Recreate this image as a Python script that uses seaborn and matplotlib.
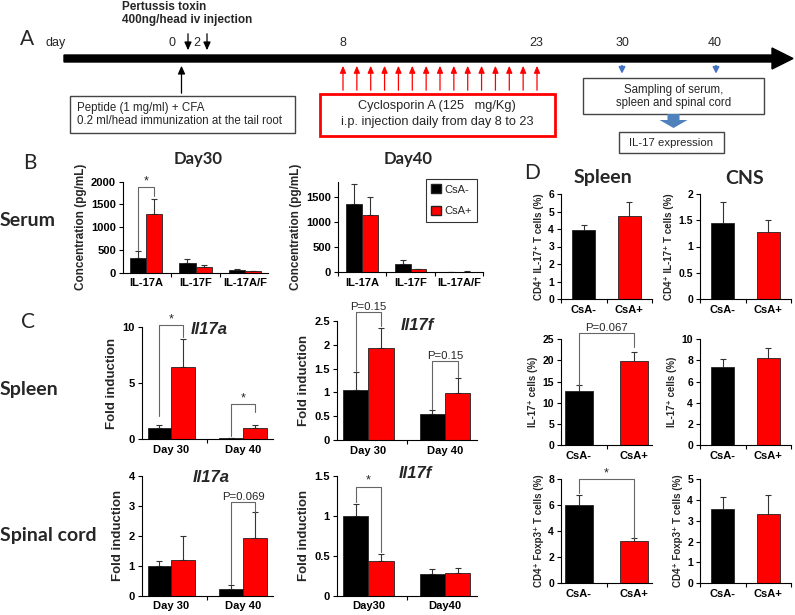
import numpy as np
import pandas as pd
import matplotlib.pyplot as plt
import seaborn as sns
from matplotlib.patches import Patch, Rectangle
from matplotlib.container import BarContainer

sns.set_theme(style='ticks')
plt.rcParams['font.family'] = ['Liberation Sans', 'DejaVu Sans']

W, H = 795, 615

groups = ['CsA-', 'CsA+']
colors = {'CsA-': '#000000', 'CsA+': '#ff0000'}

# B - serum IL-17 (pg/mL)
cytokines = ['IL-17A', 'IL-17F', 'IL-17A/F']
serum30_neg = [330, 210, 55]
serum30_neg_err = [140, 100, 25]
serum30_pos = [1280, 120, 35]
serum30_pos_err = [350, 45, 10]
serum40_neg = [1350, 160, 5]
serum40_neg_err = [410, 80, 3]
serum40_pos = [1140, 60, 15]
serum40_pos_err = [350, 15, 10]

# C - fold induction
days = ['Day 30', 'Day 40']
days2 = ['Day30', 'Day40']
spl_a_neg = [1.0, 0.1]
spl_a_neg_err = [0.3, 0.05]
spl_a_pos = [6.45, 1.0]
spl_a_pos_err = [2.45, 0.3]
spl_f_neg = [1.05, 0.55]
spl_f_neg_err = [0.37, 0.08]
spl_f_pos = [1.93, 0.98]
spl_f_pos_err = [0.42, 0.32]
sc_a_neg = [1.0, 0.23]
sc_a_neg_err = [0.17, 0.12]
sc_a_pos = [1.2, 1.93]
sc_a_pos_err = [0.8, 0.85]
sc_f_neg = [1.0, 0.27]
sc_f_neg_err = [0.15, 0.07]
sc_f_pos = [0.44, 0.29]
sc_f_pos_err = [0.08, 0.06]

# D - flow cytometry (%)
spl_cd4_il17 = [3.93, 4.72]
spl_cd4_il17_err = [0.3, 0.8]
cns_cd4_il17 = [1.45, 1.27]
cns_cd4_il17_err = [0.4, 0.24]
spl_il17 = [12.7, 19.8]
spl_il17_err = [1.4, 2.3]
cns_il17 = [7.35, 8.25]
cns_il17_err = [0.75, 0.9]
spl_foxp3 = [6.0, 3.22]
spl_foxp3_err = [0.78, 0.25]
cns_foxp3 = [3.58, 3.33]
cns_foxp3_err = [0.57, 0.92]

# timeline labels
tl_days = ['0', '2', '8', '23', '30', '40']
tl_x = [172, 197, 343, 536, 622, 715]

fig = plt.figure(figsize=(W / 100, H / 100), dpi=100)
fig.patch.set_facecolor('white')

ov = fig.add_axes([0, 0, 1, 1])
ov.set_xlim(0, W)
ov.set_ylim(H, 0)
ov.axis('off')


def px_axes(x0, y0, x1, y1):
    return fig.add_axes([x0 / W, 1 - y1 / H, (x1 - x0) / W, (y1 - y0) / H])


def bars(ax):
    return [c for c in ax.containers if isinstance(c, BarContainer)]


def style(ax, ylim, yticks, ylabel, ylab_fs=9, x_fs=8, tick_fs=8):
    sns.despine(ax=ax)
    for s in ['left', 'bottom']:
        ax.spines[s].set_color('black')
        ax.spines[s].set_linewidth(0.8)
    ax.set_ylim(*ylim)
    ax.set_yticks(yticks)
    ax.set_yticklabels(['%g' % t for t in yticks], fontweight='bold', fontsize=tick_fs)
    ax.tick_params(axis='y', direction='out', length=3, width=0.8, pad=2, colors='black')
    n = len(ax.get_xticks())
    ax.set_xticks(np.arange(n + 1) - 0.5, minor=True)
    ax.tick_params(axis='x', which='major', length=0, pad=4, colors='black')
    ax.tick_params(axis='x', which='minor', bottom=True, length=3, width=0.8, direction='out', color='black')
    for lbl in ax.get_xticklabels():
        lbl.set_fontweight('bold')
        lbl.set_fontsize(x_fs)
    ax.set_xlabel('')
    ax.set_ylabel(ylabel, fontweight='bold', fontsize=ylab_fs, labelpad=3)
    ax.set_facecolor('none')


def errs(ax, conts, errors, both=False):
    for cont, er in zip(conts, errors):
        for bar, e in zip(cont, er):
            xc = bar.get_x() + bar.get_width() / 2
            yerr = [[e], [e]] if both else [[0], [e]]
            ax.errorbar(xc, bar.get_height(), yerr=yerr, fmt='none', ecolor='#333333',
                        elinewidth=0.8, capsize=2.5, capthick=0.8, zorder=1)


def grouped(ax, cats, neg, neg_err, pos, pos_err):
    df = pd.DataFrame({'cat': cats * 2,
                       'grp': ['CsA-'] * len(cats) + ['CsA+'] * len(cats),
                       'val': neg + pos})
    sns.barplot(data=df, x='cat', y='val', hue='grp', hue_order=groups, palette=colors,
                saturation=1, width=0.66, errorbar=None, edgecolor='#222222', linewidth=0.6,
                legend=False, ax=ax, zorder=2)
    errs(ax, bars(ax), [neg_err, pos_err])


def single(ax, vals, err):
    df = pd.DataFrame({'grp': groups, 'val': vals})
    sns.barplot(data=df, x='grp', y='val', hue='grp', palette=colors, saturation=1, width=0.5,
                errorbar=None, edgecolor='#222222', linewidth=0.6, legend=False, ax=ax, zorder=2)
    errs(ax, bars(ax), [[e] for e in err], both=True)


def centers(ax):
    return [[b.get_x() + b.get_width() / 2 for b in c] for c in bars(ax)]


def bracket(ax, xl, xr, yl, top, yr, text, fs=9):
    ax.plot([xl, xl, xr, xr], [yl, top, top, yr], color='#666666', lw=0.8, clip_on=False, zorder=3)
    ax.text((xl + xr) / 2, top, text, ha='center', va='bottom', fontsize=fs, clip_on=False)


# ---------------- Panel A (schematic) ----------------
ov.text(27, 39, 'A', fontsize=15, family='Lato', ha='center', va='center')
ov.text(46, 43, 'day', fontsize=9, va='center')
for lab, x in zip(tl_days, tl_x):
    ov.text(x, 43, lab, fontsize=9, ha='center', va='center')
ov.text(122, 7, 'Pertussis toxin', fontsize=8.5, fontweight='bold', va='center')
ov.text(122, 20.5, '400ng/head iv injection', fontsize=8.5, fontweight='bold', va='center')
ov.arrow(64, 58.5, 729, 0, width=7, head_width=21, head_length=21,
         length_includes_head=True, color='black')
for x in [188, 207]:
    ov.annotate('', xy=(x, 53), xytext=(x, 31),
                arrowprops=dict(arrowstyle='-|>,head_width=0.18,head_length=0.4', color='black', lw=0.9))
ov.annotate('', xy=(181.5, 63), xytext=(181.5, 96),
            arrowprops=dict(arrowstyle='-|>,head_width=0.18,head_length=0.4', color='black', lw=0.9))
ov.add_patch(Rectangle((70, 96), 225, 37, fill=False, ec='#444444', lw=1))
ov.text(77, 108.5, 'Peptide (1 mg/ml) + CFA', fontsize=8.3, va='center')
ov.text(77, 121, '0.2 ml/head immunization at the tail root', fontsize=8.3, va='center')
for x in np.linspace(343, 537, 15):
    ov.annotate('', xy=(x, 63), xytext=(x, 93),
                arrowprops=dict(arrowstyle='-|>,head_width=0.15,head_length=0.35', color='#ff0000', lw=0.9))
ov.add_patch(Rectangle((320, 93.5), 235, 42, fill=False, ec='#ff0000', lw=2))
ov.text(437, 106.5, 'Cyclosporin A (125   mg/Kg)', fontsize=9.2, ha='center', va='center')
ov.text(437, 122.5, 'i.p. injection daily from day 8 to 23', fontsize=9.2, ha='center', va='center')
for x in [622, 716]:
    ov.annotate('', xy=(x, 76.5), xytext=(x, 63),
                arrowprops=dict(arrowstyle='-|>,head_width=0.15,head_length=0.3', color='#4472c4', lw=1.3))
ov.add_patch(Rectangle((583, 77.5), 181, 36.5, fill=False, ec='#444444', lw=1))
ov.text(674, 90, 'Sampling of serum,', fontsize=8.3, ha='center', va='center')
ov.text(674, 103, 'spleen and spinal cord', fontsize=8.3, ha='center', va='center')
ov.arrow(673.5, 114, 0, 14, width=12, head_width=28, head_length=8,
         length_includes_head=True, color='#4f81bd', lw=0)
ov.add_patch(Rectangle((618.5, 132), 105.5, 21, fill=False, ec='#444444', lw=1))
ov.text(671, 143, 'IL-17 expression', fontsize=8.2, ha='center', va='center')

# ---------------- Panel B ----------------
ov.text(30, 163, 'B', fontsize=15, family='Lato', ha='center', va='center')
ov.text(28, 220, 'Serum', fontsize=14, family='Lato', fontweight='bold', ha='center', va='center')
ov.text(198, 159, 'Day30', fontsize=12, family='Lato', fontweight='bold', ha='center', va='center')
ov.text(408, 159, 'Day40', fontsize=12, family='Lato', fontweight='bold', ha='center', va='center')

ax = px_axes(123, 181.7, 268, 272.7)
grouped(ax, cytokines, serum30_neg, serum30_neg_err, serum30_pos, serum30_pos_err)
style(ax, (0, 2000), [0, 500, 1000, 1500, 2000], 'Concentration (pg/mL)', ylab_fs=8.5)
c = centers(ax)
bracket(ax, c[0][0], c[1][0], 500, 1880, 1680, '*')

ax = px_axes(338, 181.7, 483, 272.3)
grouped(ax, cytokines, serum40_neg, serum40_neg_err, serum40_pos, serum40_pos_err)
style(ax, (0, 1800), [0, 500, 1000, 1500], 'Concentration (pg/mL)', ylab_fs=8.5)
leg = fig.legend(handles=[Patch(facecolor=colors[g], edgecolor='#222222', label=g) for g in groups],
                 loc='upper right', bbox_to_anchor=(483 / W, 1 - 173 / H), frameon=True, fancybox=False,
                 edgecolor='black', fontsize=8, handlelength=0.9, handleheight=0.9,
                 handletextpad=0.3, labelspacing=1.0, borderpad=0.5)
leg.get_frame().set_linewidth(0.8)

# ---------------- Panel C ----------------
ov.text(28, 322, 'C', fontsize=15, family='Lato', ha='center', va='center')
ov.text(29, 390, 'Spleen', fontsize=14, family='Lato', fontweight='bold', ha='center', va='center')
ov.text(48, 535, 'Spinal cord', fontsize=14, family='Lato', fontweight='bold', ha='center', va='center')

ax = px_axes(141.7, 326.7, 272.7, 439.3)
grouped(ax, days, spl_a_neg, spl_a_neg_err, spl_a_pos, spl_a_pos_err)
style(ax, (0, 10), [0, 5, 10], 'Fold induction', ylab_fs=9.5)
c = centers(ax)
bracket(ax, c[0][0], c[1][0], 2.1, 10.15, 9.1, '*')
bracket(ax, c[0][1], c[1][1], 0.32, 3.1, 2.45, '*')
ov.text(209, 330, 'Il17a', fontsize=12, fontweight='bold', style='italic', ha='center', va='center')

ax = px_axes(336.7, 321, 476.7, 440)
grouped(ax, days, spl_f_neg, spl_f_neg_err, spl_f_pos, spl_f_pos_err)
style(ax, (0, 2.5), [0, 0.5, 1, 1.5, 2, 2.5], 'Fold induction', ylab_fs=9.5)
c = centers(ax)
bracket(ax, c[0][0], c[1][0], 1.45, 2.69, 2.4, 'P=0.15', fs=8.2)
bracket(ax, c[0][1], c[1][1], 0.65, 1.66, 1.33, 'P=0.15', fs=8.2)
ov.text(401, 326, 'Il17f', fontsize=12, fontweight='bold', style='italic', ha='left', va='center')

ax = px_axes(141.7, 475.7, 272.7, 595.7)
grouped(ax, days, sc_a_neg, sc_a_neg_err, sc_a_pos, sc_a_pos_err)
style(ax, (0, 4), [0, 1, 2, 3, 4], 'Fold induction', ylab_fs=9.5)
c = centers(ax)
bracket(ax, c[0][1], c[1][1], 0.38, 3.13, 2.8, 'P=0.069', fs=8.2)
ov.text(211, 477, 'Il17a', fontsize=12, fontweight='bold', style='italic', ha='center', va='center')

ax = px_axes(336.7, 475.7, 476.7, 595.7)
grouped(ax, days2, sc_f_neg, sc_f_neg_err, sc_f_pos, sc_f_pos_err)
style(ax, (0, 1.5), [0, 0.5, 1, 1.5], 'Fold induction', ylab_fs=9.5)
c = centers(ax)
bracket(ax, c[0][0], c[1][0], 1.17, 1.36, 0.55, '*')
ov.text(399, 474, 'Il17f', fontsize=12, fontweight='bold', style='italic', ha='left', va='center')

# ---------------- Panel D ----------------
ov.text(532, 173, 'D', fontsize=15, family='Lato', ha='center', va='center')
ov.text(603, 178, 'Spleen', fontsize=14, family='Lato', fontweight='bold', ha='center', va='center')
ov.text(745, 178, 'CNS', fontsize=14, family='Lato', fontweight='bold', ha='center', va='center')

rows = [
    (194, 299, spl_cd4_il17, spl_cd4_il17_err, (0, 6), list(range(0, 7)),
     cns_cd4_il17, cns_cd4_il17_err, (0, 2), [0, 0.5, 1, 1.5, 2], 'CD4⁺ IL-17⁺ T cells (%)'),
    (339.3, 445, spl_il17, spl_il17_err, (0, 25), [0, 5, 10, 15, 20, 25],
     cns_il17, cns_il17_err, (0, 10), [0, 2, 4, 6, 8, 10], 'IL-17⁺ cells (%)'),
    (479, 583.3, spl_foxp3, spl_foxp3_err, (0, 8), [0, 2, 4, 6, 8],
     cns_foxp3, cns_foxp3_err, (0, 5), [0, 1, 2, 3, 4, 5], 'CD4⁺ Foxp3⁺ T cells (%)'),
]
d_axes = []
for y0, y1, sv, se, sl, st, cv, ce, cl, ct, lab in rows:
    a1 = px_axes(561, y0, 652, y1)
    single(a1, sv, se)
    style(a1, sl, st, lab, ylab_fs=7, x_fs=8, tick_fs=7.5)
    a2 = px_axes(700, y0, 791, y1)
    single(a2, cv, ce)
    style(a2, cl, ct, lab, ylab_fs=7, x_fs=8, tick_fs=7.5)
    d_axes.append(a1)

c = centers(d_axes[1])
bracket(d_axes[1], c[0][0], c[1][0], 14.3, 26.4, 23.2, 'P=0.067', fs=8.2)
c = centers(d_axes[2])
bracket(d_axes[2], c[0][0], c[1][0], 6.9, 8.0, 3.5, '*')

fig.savefig('out.png', dpi=100)
